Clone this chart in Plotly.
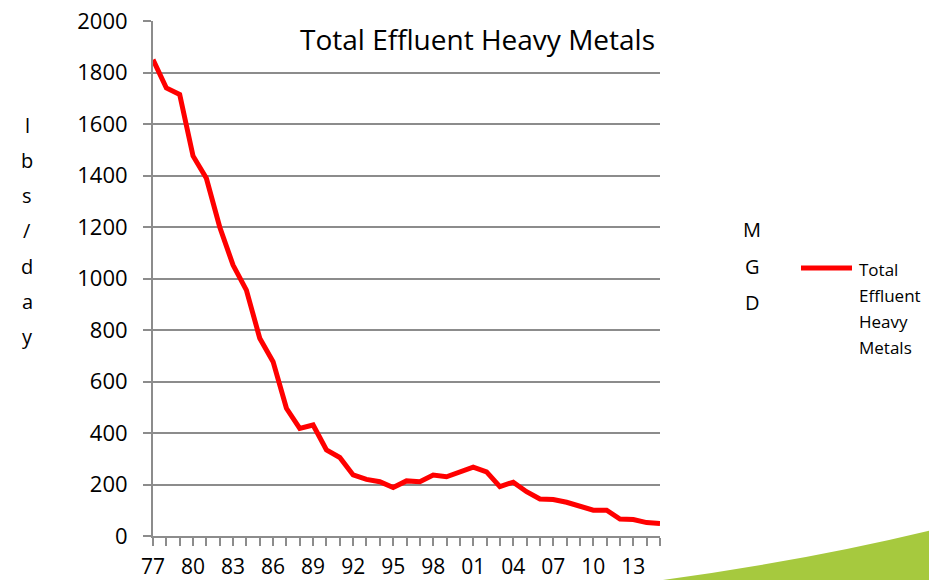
import plotly.graph_objects as go

# Annual total effluent heavy metals load, 1977-2015 (lbs/day)
years = list(range(1977, 2016))
heavy_metals = [1850, 1740, 1715, 1476, 1389, 1200, 1052, 955, 768, 677,
                496, 418, 431, 334, 305, 237, 220, 211, 188, 214,
                211, 237, 230, 247, 267, 249, 192, 209, 172, 144,
                142, 131, 117, 100, 100, 66, 64, 52, 49]
tick_years = list(range(1977, 2014, 3))
tick_labels = [str(y)[-2:] for y in tick_years]
y_ticks = list(range(0, 2001, 200))
series_label = ["Total", "Effluent", "Heavy", "Metals"]

FONT = "Open Sans, Lato, sans-serif"
GRID = "#8c8c8c"
RED = "#ff0000"
W, H = 929, 580
L, R, T, B = 153, 660, 21, 536


def px_x(x):
    return (x - L) / (R - L)


def px_y(y):
    return (B - y) / (B - T)


fig = go.Figure()
fig.add_trace(go.Scatter(
    x=years, y=heavy_metals, mode="lines", name=" ".join(series_label),
    line=dict(color=RED, width=5), showlegend=False,
))

annotations = [
    dict(text="Total Effluent Heavy Metals", x=px_x(657), y=px_y(39),
         xref="paper", yref="paper", xanchor="right", yanchor="middle",
         showarrow=False, font=dict(size=28, color="#000000", family=FONT)),
]
# vertical stacked axis captions
for i, ch in enumerate("lbs/day"):
    annotations.append(dict(text=ch, x=px_x(27), y=px_y(125 + 35.3 * i),
                            xref="paper", yref="paper", xanchor="center",
                            yanchor="middle", showarrow=False,
                            font=dict(size=20, color="#000000", family=FONT)))
for i, ch in enumerate("MGD"):
    annotations.append(dict(text=ch, x=px_x(752), y=px_y(230 + 36 * i),
                            xref="paper", yref="paper", xanchor="center",
                            yanchor="middle", showarrow=False,
                            font=dict(size=20, color="#000000", family=FONT)))
# legend entry text
for i, word in enumerate(series_label):
    annotations.append(dict(text=word, x=px_x(857), y=px_y(269 + 26.3 * i),
                            xref="paper", yref="paper", xanchor="left",
                            yanchor="middle", showarrow=False,
                            font=dict(size=17, color="#000000", family=FONT)))

# green swoosh in the lower right corner
swoosh = (f"M {px_x(648)},{px_y(582)} "
          f"Q {px_x(800)},{px_y(562)} {px_x(932)},{px_y(530)} "
          f"L {px_x(932)},{px_y(582)} Z")

shapes = [
    dict(type="path", path=swoosh, xref="paper", yref="paper",
         fillcolor="#a6c93e", line=dict(width=0), layer="below"),
    # legend key line
    dict(type="line", xref="paper", yref="paper",
         x0=px_x(801), x1=px_x(852), y0=px_y(268), y1=px_y(268),
         line=dict(color=RED, width=5)),
]

fig.update_layout(
    width=W, height=H,
    margin=dict(l=L, r=W - R, t=T, b=H - B, pad=0),
    paper_bgcolor="white", plot_bgcolor="white",
    font=dict(family=FONT, size=20, color="#000000"),
    showlegend=False,
    annotations=annotations,
    shapes=shapes,
    xaxis=dict(
        range=[1977, 2015], tickvals=tick_years, ticktext=tick_labels,
        automargin=False,
        showgrid=False, zeroline=False, showline=True, linecolor=GRID,
        linewidth=2, ticks="outside", ticklen=8, tickcolor=GRID, tickwidth=2,
        ticklabelstandoff=3,
        minor=dict(dtick=1, tick0=1977, ticks="outside", ticklen=8,
                   tickcolor=GRID, tickwidth=2, showgrid=False),
        tickfont=dict(size=21, family=FONT),
    ),
    yaxis=dict(
        range=[0, 2000], tickvals=y_ticks, automargin=False,
        showgrid=True, gridcolor=GRID,
        gridwidth=2, zeroline=False, showline=True, linecolor=GRID,
        linewidth=2, ticks="outside", ticklen=8, tickcolor=GRID, tickwidth=2,
        ticklabelstandoff=11, tickfont=dict(size=22, family=FONT),
    ),
)

fig.write_html("out.html")
